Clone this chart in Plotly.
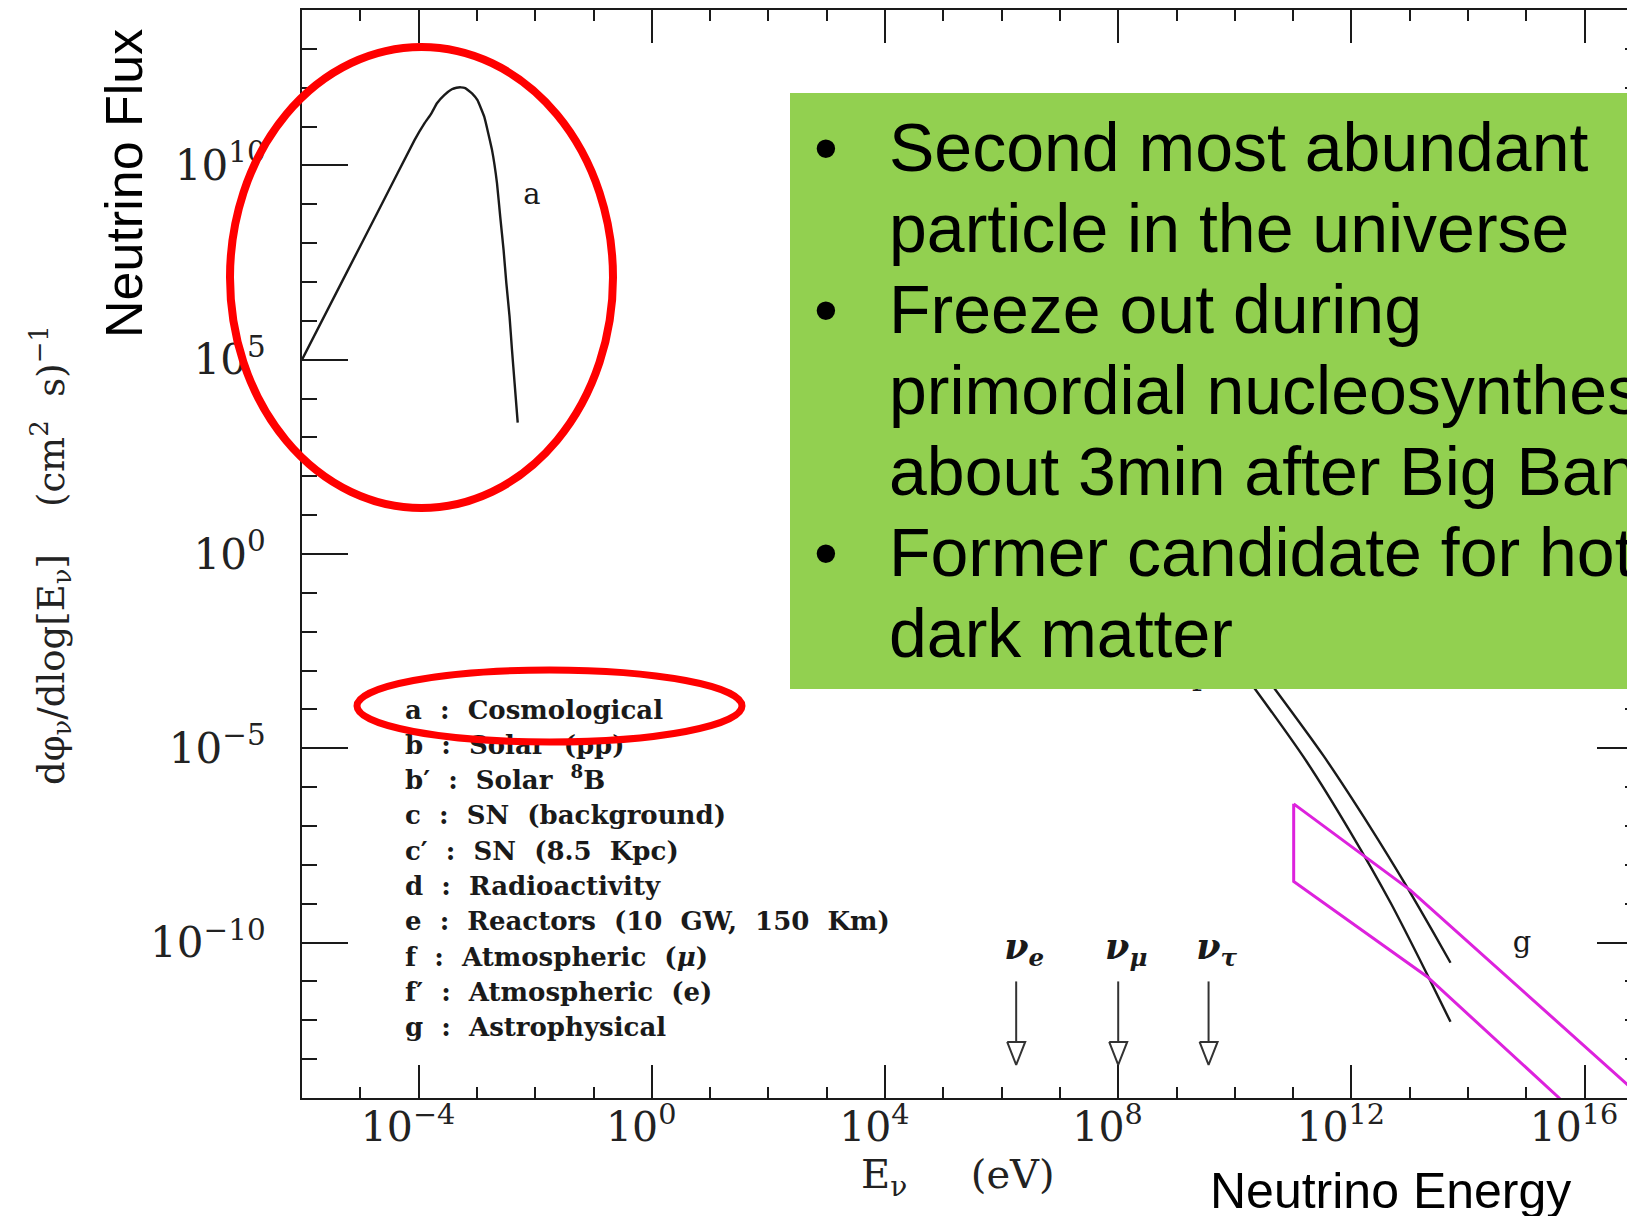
import numpy as np
import plotly.graph_objects as go

# ---------------- data (log10 of energy in eV, log10 of flux) ----------------
# a : cosmological relic neutrinos
cosmo_log_e = [-6.0, -5.228, -4.657, -4.07, -3.90, -3.78, -3.685, -3.56, -3.43,
               -3.35, -3.275, -3.20, -3.08, -2.99, -2.873, -2.741, -2.655, -2.60,
               -2.542, -2.495, -2.44, -2.398, -2.353, -2.30]
cosmo_log_flux = [5.0, 7.26, 8.93, 10.65, 11.08, 11.34, 11.60, 11.81, 11.96,
                  12.00, 12.01, 11.99, 11.85, 11.68, 11.25, 10.40, 9.54, 8.68,
                  7.82, 6.97, 6.11, 5.25, 4.39, 3.38]

# f : atmospheric (mu),  f' : atmospheric (e)
atm_mu_log_e = [10.60, 10.69, 11.52, 12.32, 12.95, 13.41, 13.70]
atm_mu_log_flux = [-3.30, -3.48, -5.19, -7.02, -8.56, -9.75, -10.52]
atm_e_log_e = [10.26, 10.35, 11.24, 11.98, 12.67, 13.30, 13.70]
atm_e_log_flux = [-3.30, -3.48, -5.36, -7.15, -8.97, -10.82, -12.04]

# g : astrophysical band (upper edge left->right, lower edge right->left)
astro_upper_log_e = [11.01, 13.01, 16.73, 17.10]
astro_upper_log_flux = [-6.43, -8.65, -13.65, -14.20]
astro_lower_log_e = [15.75, 15.55, 13.30, 11.01]
astro_lower_log_flux = [-14.30, -13.98, -10.88, -8.43]

# neutrino mass markers
nu_names = ["ν<sub>e</sub>", "ν<sub>μ</sub>", "ν<sub>τ</sub>"]
nu_log_e = [6.25, 8.00, 9.55]
nu_arrow_from = [-11.0, -11.0, -11.0]
nu_arrow_to = [-13.15, -13.15, -13.15]

# legend block of the original figure
key_lines = [
    "a\u00a0\u00a0:\u00a0\u00a0Cosmological",
    "b\u00a0\u00a0:\u00a0\u00a0Solar\u00a0\u00a0(pp)",
    "b′\u00a0\u00a0:\u00a0\u00a0Solar\u00a0\u00a0<sup>8</sup>B",
    "c\u00a0\u00a0:\u00a0\u00a0SN\u00a0\u00a0(background)",
    "c′\u00a0\u00a0:\u00a0\u00a0SN\u00a0\u00a0(8.5\u00a0\u00a0Kpc)",
    "d\u00a0\u00a0:\u00a0\u00a0Radioactivity",
    "e\u00a0\u00a0:\u00a0\u00a0Reactors\u00a0\u00a0(10\u00a0\u00a0GW,\u00a0\u00a0150\u00a0\u00a0Km)",
    "f\u00a0\u00a0:\u00a0\u00a0Atmospheric\u00a0\u00a0(<i>μ</i>)",
    "f′\u00a0\u00a0:\u00a0\u00a0Atmospheric\u00a0\u00a0(e)",
    "g\u00a0\u00a0:\u00a0\u00a0Astrophysical",
]

# axis ticks
x_major_exp = [-4, 0, 4, 8, 12, 16]
x_tick_text = ["10<sup>−4</sup>", "10<sup>0</sup>", "10<sup>4</sup>",
               "10<sup>8</sup>", "10<sup>12</sup>", "10<sup>16</sup>"]
y_major_exp = [-10, -5, 0, 5, 10]
y_tick_text = ["10<sup>−10</sup>", "10<sup>−5</sup>", "10<sup>0</sup>",
               "10<sup>5</sup>", "10<sup>10</sup>"]

bullet_lines = [
    ("•", "Second most abundant"),
    ("", "particle in the universe"),
    ("•", "Freeze out during"),
    ("", "primordial nucleosynthesis"),
    ("", "about 3min after Big Bang"),
    ("•", "Former candidate for hot"),
    ("", "dark matter"),
]

# ---------------- geometry ----------------
W, H = 1627, 1216
M_L, M_T, M_B, M_R = 302, 10, 118, 0
PW = W - M_L - M_R
PH = H - M_T - M_B
X_RANGE = [-6.0, -6.0 + PW / 58.3]
Y_RANGE = [-14.0, 14.0]
PX_DEC_X = PW / (X_RANGE[1] - X_RANGE[0])
PX_DEC_Y = PH / (Y_RANGE[1] - Y_RANGE[0])


def paper_x(px):
    return (px - M_L) / PW


def paper_y(py):
    return (H - M_B - py) / PH


def log_x(px):
    return X_RANGE[0] + (px - M_L) / PX_DEC_X


def log_y(py):
    return Y_RANGE[1] - (py - M_T) / PX_DEC_Y


def p10(v):
    return np.power(10.0, np.asarray(v, dtype=float))


SERIF = "DejaVu Serif"
SANS = "Liberation Sans, Arial, sans-serif"
INK = "#1a1a1a"
MAGENTA = "#DD22DD"

fig = go.Figure()

# curve a
fig.add_trace(go.Scatter(x=p10(cosmo_log_e), y=p10(cosmo_log_flux), mode="lines",
                         line=dict(color=INK, width=2.4, shape="spline", smoothing=0.3),
                         hoverinfo="skip"))
# curves f, f'
for le, lf in ((atm_mu_log_e, atm_mu_log_flux), (atm_e_log_e, atm_e_log_flux)):
    fig.add_trace(go.Scatter(x=p10(le), y=p10(lf), mode="lines",
                             line=dict(color=INK, width=2.4, shape="spline", smoothing=0.6),
                             hoverinfo="skip"))
# band g
band_x = list(astro_upper_log_e) + list(astro_lower_log_e) + [astro_upper_log_e[0]]
band_y = list(astro_upper_log_flux) + list(astro_lower_log_flux) + [astro_upper_log_flux[0]]
fig.add_trace(go.Scatter(x=p10(band_x), y=p10(band_y), mode="lines",
                         line=dict(color=MAGENTA, width=3), hoverinfo="skip"))

# neutrino mass arrows with open heads
head_half = 9.0 / PX_DEC_X
head_len = 23.0 / PX_DEC_Y
for le, y0, y1 in zip(nu_log_e, nu_arrow_from, nu_arrow_to):
    top = y1 + head_len
    fig.add_trace(go.Scatter(x=p10([le, le]), y=p10([y0, top]), mode="lines",
                             line=dict(color="#333333", width=2), hoverinfo="skip"))
    fig.add_trace(go.Scatter(x=p10([le - head_half, le + head_half, le, le - head_half]),
                             y=p10([top, top, y1, top]), mode="lines",
                             line=dict(color="#333333", width=2), hoverinfo="skip"))
fig.add_trace(go.Scatter(x=p10([le + 8.0 / PX_DEC_X for le in nu_log_e]),
                         y=p10([log_y(950)] * 3), mode="text", text=nu_names,
                         textposition="middle center",
                         textfont=dict(family=SERIF, size=35, color=INK, style="italic",
                                       weight="bold"),
                         hoverinfo="skip"))

# curve labels (drawn under the overlay shapes)
fig.add_trace(go.Scatter(x=p10([log_x(532), log_x(1522), log_x(1197)]),
                         y=p10([log_y(197), log_y(945), log_y(684)]),
                         mode="text", text=["a", "g", "f"], textposition="middle center",
                         textfont=dict(family=SERIF, size=29, color=INK), hoverinfo="skip"))

# legend block
key_y = [log_y(712 + 35.3 * i) for i in range(len(key_lines))]
fig.add_trace(go.Scatter(x=p10([log_x(405)] * len(key_lines)), y=p10(key_y), mode="text",
                         text=key_lines, textposition="middle right",
                         textfont=dict(family=SERIF, size=26, color=INK, weight="bold"),
                         hoverinfo="skip"))

# right-hand axis carrier
fig.add_trace(go.Scatter(x=[1.0], y=[1.0], yaxis="y2", mode="markers",
                         marker=dict(opacity=0), hoverinfo="skip"))

x_minor = [10.0 ** k for k in range(-6, 17) if k not in x_major_exp]
y_minor = [10.0 ** k for k in range(-13, 14) if k not in y_major_exp]

fig.update_layout(
    width=W, height=H,
    margin=dict(l=M_L, r=M_R, t=M_T, b=M_B, pad=0, autoexpand=False),
    paper_bgcolor="white", plot_bgcolor="white",
    showlegend=False,
    xaxis=dict(type="log", range=X_RANGE, showline=True, linewidth=2, linecolor=INK,
               mirror="ticks", ticks="inside", ticklen=33, tickwidth=1.6, tickcolor=INK,
               tickvals=[10.0 ** e for e in x_major_exp],
               ticktext=[t + "\u00a0\u2009" for t in x_tick_text],
               tickfont=dict(family=SERIF, size=41, color="#222222"),
               ticklabeloverflow="allow", automargin=False,
               minor=dict(tickvals=x_minor, ticks="inside", ticklen=11, tickwidth=1.6,
                          tickcolor=INK, showgrid=False),
               showgrid=False, zeroline=False, ticklabelstandoff=-8),
    yaxis=dict(type="log", range=Y_RANGE, showline=True, linewidth=2, linecolor=INK,
               mirror=False, ticks="inside", ticklen=46, tickwidth=1.6, tickcolor=INK,
               tickvals=[10.0 ** e for e in y_major_exp], ticktext=y_tick_text,
               tickfont=dict(family=SERIF, size=42, color="#222222"),
               ticklabeloverflow="allow", automargin=False,
               minor=dict(tickvals=y_minor, ticks="inside", ticklen=15, tickwidth=1.6,
                          tickcolor=INK, showgrid=False),
               showgrid=False, zeroline=False, ticklabelstandoff=26),
    yaxis2=dict(type="log", range=Y_RANGE, overlaying="y", side="right", anchor="x",
                showline=False, ticks="inside", ticklen=30, tickwidth=1.6, tickcolor=INK,
                tickvals=[10.0 ** e for e in y_major_exp], showticklabels=False,
                automargin=False,
                minor=dict(tickvals=y_minor, ticks="inside", ticklen=2, tickwidth=1.6,
                           tickcolor=INK, showgrid=False),
                showgrid=False, zeroline=False),
)

# overlay: green note box and red highlight ellipses
fig.add_shape(type="rect", xref="paper", yref="paper",
              x0=paper_x(790), x1=paper_x(1720), y0=paper_y(93), y1=paper_y(689),
              fillcolor="#92D050", line=dict(width=0), layer="above")
fig.add_shape(type="circle", xref="paper", yref="paper",
              x0=paper_x(230), x1=paper_x(613), y0=paper_y(47), y1=paper_y(508),
              line=dict(color="#FF0000", width=8), layer="above")
fig.add_shape(type="circle", xref="paper", yref="paper",
              x0=paper_x(357), x1=paper_x(742), y0=paper_y(670), y1=paper_y(742),
              line=dict(color="#FF0000", width=7), layer="above")

# note text
for i, (bullet, line) in enumerate(bullet_lines):
    yc = paper_y(147 + 81 * i)
    if bullet:
        fig.add_annotation(x=paper_x(812), y=yc, xref="paper", yref="paper",
                           text=bullet, showarrow=False, xanchor="left", yanchor="middle",
                           font=dict(family=SANS, size=68, color="black"))
    fig.add_annotation(x=paper_x(887), y=yc, xref="paper", yref="paper",
                       text=line, showarrow=False, xanchor="left", yanchor="middle",
                       font=dict(family=SANS, size=68, color="black"))

# axis titles
fig.add_annotation(x=paper_x(50), y=paper_y(555), xref="paper", yref="paper",
                   text="dφ<sub>ν</sub>/dlog[E<sub>ν</sub>]\u00a0\u00a0\u00a0\u00a0(cm<sup>2</sup>\u00a0\u00a0s)<sup>−1</sup>",
                   textangle=-90, showarrow=False, xanchor="center", yanchor="middle",
                   font=dict(family=SERIF, size=37, color="#222222"))
fig.add_annotation(x=paper_x(958), y=paper_y(1177), xref="paper", yref="paper",
                   text="E<sub>ν</sub>\u00a0\u00a0\u00a0\u00a0\u00a0(eV)",
                   showarrow=False, xanchor="center", yanchor="middle",
                   font=dict(family=SERIF, size=40, color="#222222"))

# slide captions
fig.add_annotation(x=paper_x(124), y=paper_y(184), xref="paper", yref="paper",
                   text="Neutrino Flux", textangle=-90, showarrow=False,
                   xanchor="center", yanchor="middle",
                   font=dict(family=SANS, size=52, color="black"))
fig.add_annotation(x=paper_x(1208), y=paper_y(1191), xref="paper", yref="paper",
                   text="Neutrino Energy", showarrow=False,
                   xanchor="left", yanchor="middle",
                   font=dict(family=SANS, size=50, color="black"))

fig.write_html("out.html")
